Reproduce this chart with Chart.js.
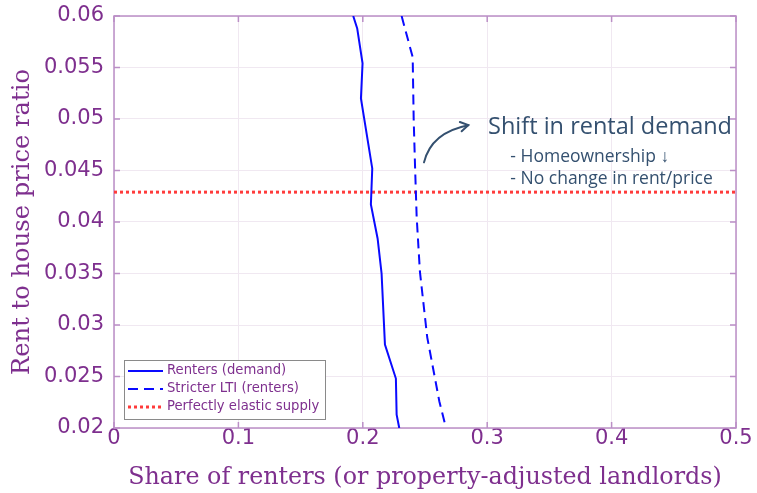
<!DOCTYPE html>
<html>
<head>
<meta charset="utf-8">
<script src="https://cdn.jsdelivr.net/npm/chart.js@4.4.0/dist/chart.umd.min.js"></script>
<style>
  html, body { margin: 0; padding: 0; background: #ffffff; }
  #wrap { width: 757px; height: 493px; position: relative; }
</style>
</head>
<body>
<div id="wrap"><canvas id="c"></canvas></div>
<script>
// Renters' demand curve: share of renters at each rent-to-price ratio
const renterRatio = [0.06, 0.0588, 0.0554, 0.0520, 0.0452, 0.0417, 0.0384, 0.0350, 0.0281, 0.0248, 0.0213, 0.02];
const renterShare = [0.1923, 0.1955, 0.1998, 0.1985, 0.2076, 0.2065, 0.2119, 0.2151, 0.2178, 0.2266, 0.2272, 0.2293];

// Demand curve under a stricter loan-to-income limit
const ltiRatio = [0.06, 0.0560, 0.0500, 0.0454, 0.0405, 0.0352, 0.0288, 0.0226, 0.02];
const ltiShare = [0.2312, 0.2401, 0.2409, 0.2420, 0.2433, 0.2459, 0.2518, 0.2615, 0.2669];

// Perfectly elastic rental supply
const supplyRatio = 0.0429;
const supplyShare = [0, 0.5];

const seriesLabels = ['Renters (demand)', 'Stricter LTI (renters)', 'Perfectly elastic supply'];
const xTickLabels = ['0', '0.1', '0.2', '0.3', '0.4', '0.5'];
const yTickLabels = ['0.02', '0.025', '0.03', '0.035', '0.04', '0.045', '0.05', '0.055', '0.06'];

const noteTitle = 'Shift in rental demand';
const noteLines = ['- Homeownership \u2193', '- No change in rent/price'];

const PURPLE = '#7e2f8e';
const AXIS = '#bb8fc6';
const GRID = '#f0e8f1';
const NOTE = '#34506f';

const toPoints = (xs, ys) => xs.map((x, i) => ({ x: x, y: ys[i] }));

// Box around the plot area with inward-pointing ticks on all four sides
const boxPlugin = {
  id: 'boxAxes',
  beforeDatasetsDraw(chart) {
    const { ctx, chartArea: a, scales } = chart;
    ctx.save();
    ctx.strokeStyle = AXIS;
    ctx.lineWidth = 1.5;
    ctx.strokeRect(a.left, a.top, a.right - a.left, a.bottom - a.top);
    const tl = 6;
    ctx.beginPath();
    scales.x.ticks.forEach(t => {
      const px = scales.x.getPixelForValue(t.value);
      ctx.moveTo(px, a.bottom); ctx.lineTo(px, a.bottom - tl);
      ctx.moveTo(px, a.top); ctx.lineTo(px, a.top + tl);
    });
    scales.y.ticks.forEach(t => {
      const py = scales.y.getPixelForValue(t.value);
      ctx.moveTo(a.left, py); ctx.lineTo(a.left + tl, py);
      ctx.moveTo(a.right, py); ctx.lineTo(a.right - tl, py);
    });
    ctx.stroke();
    ctx.restore();
  }
};

// Legend box in the lower-left corner of the plot
const legendPlugin = {
  id: 'cornerLegend',
  afterDatasetsDraw(chart) {
    const { ctx, chartArea: a } = chart;
    const x0 = a.left + 10, w = 201, h = 59;
    const y0 = a.bottom - 9 - h;
    ctx.save();
    ctx.fillStyle = '#ffffff';
    ctx.fillRect(x0, y0, w, h);
    ctx.strokeStyle = '#8a8a8a';
    ctx.lineWidth = 1;
    ctx.strokeRect(x0 + 0.5, y0 + 0.5, w, h);
    ctx.font = '13.2px "DejaVu Sans"';
    ctx.textBaseline = 'middle';
    chart.data.datasets.forEach((ds, i) => {
      const cy = y0 + 11 + i * 18;
      ctx.save();
      ctx.strokeStyle = ds.borderColor;
      ctx.lineWidth = ds.borderWidth;
      ctx.setLineDash(ds.borderDash || []);
      ctx.beginPath();
      ctx.moveTo(x0 + 4, cy); ctx.lineTo(x0 + 39, cy);
      ctx.stroke();
      ctx.restore();
      ctx.fillStyle = PURPLE;
      ctx.fillText(ds.label, x0 + 43, cy);
    });
    ctx.restore();
  }
};

// Curved arrow and note on the demand shift, placed in data coordinates
const notePlugin = {
  id: 'shiftNote',
  afterDatasetsDraw(chart) {
    const { ctx, scales: { x, y } } = chart;
    const p0 = { x: x.getPixelForValue(0.2492), y: y.getPixelForValue(0.04579) };
    const c = { x: x.getPixelForValue(0.2550), y: y.getPixelForValue(0.04870) };
    const p1 = { x: x.getPixelForValue(0.2848), y: y.getPixelForValue(0.04940) };
    ctx.save();
    ctx.strokeStyle = NOTE;
    ctx.lineWidth = 2;
    ctx.lineCap = 'round';
    ctx.beginPath();
    ctx.moveTo(p0.x, p0.y);
    ctx.quadraticCurveTo(c.x, c.y, p1.x, p1.y);
    ctx.stroke();
    const ang = Math.atan2(p1.y - c.y, p1.x - c.x);
    const hl = 9;
    ctx.beginPath();
    ctx.moveTo(p1.x - hl * Math.cos(ang - 0.55), p1.y - hl * Math.sin(ang - 0.55));
    ctx.lineTo(p1.x, p1.y);
    ctx.lineTo(p1.x - hl * Math.cos(ang + 0.55), p1.y - hl * Math.sin(ang + 0.55));
    ctx.stroke();

    ctx.fillStyle = NOTE;
    ctx.textBaseline = 'middle';
    ctx.textAlign = 'left';
    ctx.font = '23.5px "Open Sans"';
    ctx.fillText(noteTitle, x.getPixelForValue(0.3007), y.getPixelForValue(0.04921));
    ctx.font = '17.5px "Open Sans"';
    ctx.fillText(noteLines[0], x.getPixelForValue(0.3186), y.getPixelForValue(0.04630));
    ctx.fillText(noteLines[1], x.getPixelForValue(0.3186), y.getPixelForValue(0.04422));
    ctx.restore();
  }
};

new Chart(document.getElementById('c'), {
  type: 'scatter',
  data: {
    datasets: [
      {
        label: seriesLabels[0],
        data: toPoints(renterShare, renterRatio),
        showLine: true,
        borderColor: '#0a0aff',
        borderWidth: 2,
        pointRadius: 0,
        borderDash: []
      },
      {
        label: seriesLabels[1],
        data: toPoints(ltiShare, ltiRatio),
        showLine: true,
        borderColor: '#0a0aff',
        borderWidth: 2,
        pointRadius: 0,
        borderDash: [10, 6]
      },
      {
        label: seriesLabels[2],
        data: supplyShare.map(s => ({ x: s, y: supplyRatio })),
        showLine: true,
        borderColor: '#ff3b3b',
        borderWidth: 3,
        pointRadius: 0,
        borderDash: [3, 3]
      }
    ]
  },
  options: {
    responsive: true,
    maintainAspectRatio: false,
    animation: false,
    layout: { padding: { top: 16, right: 21, left: 0, bottom: 0 } },
    plugins: {
      legend: { display: false },
      tooltip: { enabled: false }
    },
    scales: {
      x: {
        type: 'linear',
        min: 0,
        max: 0.5,
        afterBuildTicks: s => { s.ticks = xTickLabels.map(v => ({ value: +v })); },
        afterFit: s => { s.height = 65; s.paddingLeft = 0; s.paddingRight = 0; },
        border: { display: false },
        grid: { color: GRID, lineWidth: 1, drawTicks: false },
        ticks: {
          color: PURPLE,
          font: { family: '"DejaVu Sans"', size: 21, lineHeight: 1 },
          padding: 0,
          maxRotation: 0,
          callback: (v, i) => xTickLabels[i]
        },
        title: {
          display: true,
          text: 'Share of renters (or property-adjusted landlords)',
          color: PURPLE,
          font: { family: '"DejaVu Serif"', size: 23.8 },
          padding: { top: 0, bottom: 1 }
        }
      },
      y: {
        type: 'linear',
        min: 0.02,
        max: 0.06,
        afterBuildTicks: s => { s.ticks = yTickLabels.map(v => ({ value: +v })); },
        afterFit: s => { s.width = 114; s.paddingTop = 0; s.paddingBottom = 0; },
        border: { display: false },
        grid: { color: GRID, lineWidth: 1, drawTicks: false },
        ticks: {
          color: PURPLE,
          font: { family: '"DejaVu Sans"', size: 21 },
          padding: 10,
          callback: (v, i) => yTickLabels[i]
        },
        title: {
          display: true,
          text: 'Rent to house price ratio',
          color: PURPLE,
          font: { family: '"DejaVu Serif"', size: 24.2 },
          padding: { top: 8, bottom: 0 }
        }
      }
    }
  },
  plugins: [boxPlugin, legendPlugin, notePlugin]
});
</script>
</body>
</html>
